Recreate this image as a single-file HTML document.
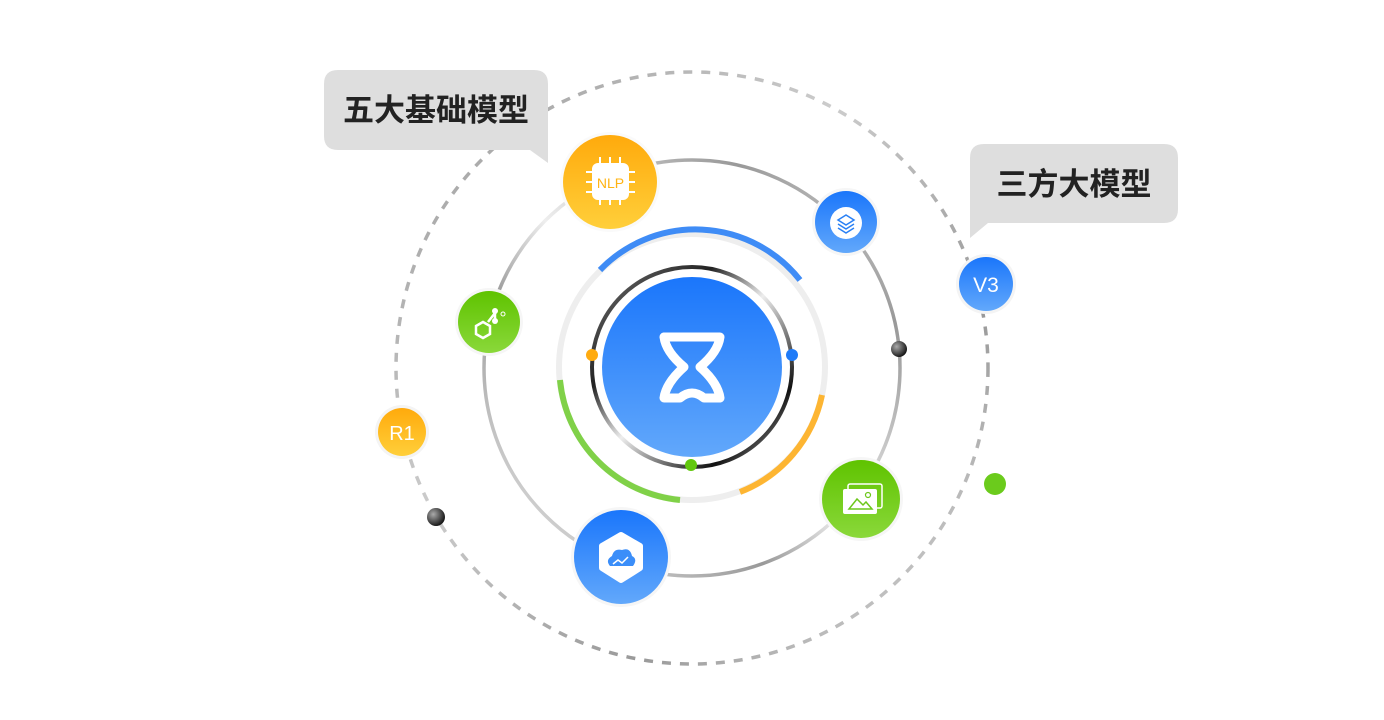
<!DOCTYPE html>
<html><head><meta charset="utf-8"><style>
html,body{margin:0;padding:0;background:#fff;width:1384px;height:720px;overflow:hidden}
svg{display:block}
text{font-family:"Liberation Sans","Noto Sans CJK SC",sans-serif}
</style></head><body>
<svg width="1384" height="720" viewBox="0 0 1384 720">
<defs>
<linearGradient id="blue" x1="0" y1="0" x2="0" y2="1"><stop offset="0" stop-color="#1a76fb"/><stop offset="1" stop-color="#62a8fb"/></linearGradient>
<linearGradient id="orange" x1="0" y1="0" x2="0" y2="1"><stop offset="0" stop-color="#ffaa0c"/><stop offset="1" stop-color="#ffcf3a"/></linearGradient>
<linearGradient id="green" x1="0" y1="0" x2="0" y2="1"><stop offset="0" stop-color="#5fc300"/><stop offset="1" stop-color="#8ad83a"/></linearGradient>
<radialGradient id="dark" cx="0.35" cy="0.35" r="0.7"><stop offset="0" stop-color="#aaa"/><stop offset="1" stop-color="#111"/></radialGradient>
<linearGradient id="midring" x1="0" y1="1" x2="1" y2="0"><stop offset="0" stop-color="#f2f2f2"/><stop offset="0.35" stop-color="#999"/><stop offset="0.5" stop-color="#eee"/><stop offset="0.8" stop-color="#999"/><stop offset="1" stop-color="#eee"/></linearGradient>
<linearGradient id="innerring" x1="0" y1="0" x2="1" y2="1"><stop offset="0" stop-color="#777"/><stop offset="0.3" stop-color="#222"/><stop offset="0.5" stop-color="#eee"/><stop offset="0.8" stop-color="#111"/><stop offset="1" stop-color="#ccc"/></linearGradient>
<linearGradient id="outerring" x1="0" y1="0" x2="1" y2="1"><stop offset="0" stop-color="#999"/><stop offset="0.4" stop-color="#ccc"/><stop offset="0.7" stop-color="#999"/><stop offset="1" stop-color="#e4e4e4"/></linearGradient>
</defs>

<circle cx="692" cy="368" r="296" fill="none" stroke="url(#outerring)" stroke-width="3.5" stroke-dasharray="9 9"/>
<circle cx="692" cy="368" r="208" fill="none" stroke="url(#midring)" stroke-width="3.5"/>
<circle cx="692" cy="367" r="133" fill="none" stroke="#eee" stroke-width="6"/>
<path d="M 600 270 A 133 133 0 0 1 800 280" fill="none" stroke="#2a80f5" stroke-width="6" opacity="0.9"/>
<path d="M 560 380 A 133 133 0 0 0 680 500" fill="none" stroke="#6ccb2a" stroke-width="6" opacity="0.85"/>
<path d="M 740 492 A 133 133 0 0 0 822 395" fill="none" stroke="#ffaa10" stroke-width="6" opacity="0.85"/>
<circle cx="692" cy="367" r="100" fill="none" stroke="url(#innerring)" stroke-width="4"/>
<circle cx="592" cy="355" r="6" fill="#ffab10"/>
<circle cx="792" cy="355" r="6" fill="#1f7bf8"/>
<circle cx="691" cy="465" r="6" fill="#62c80e"/>
<circle cx="692" cy="367" r="90" fill="url(#blue)"/>
<path d="M 664 337 L 720 337 Q 718 352 700 367 Q 718 383 720 398 L 704 398 Q 692 388 680 398 L 664 398 Q 666 383 684 367 Q 666 352 664 337 Z" fill="none" stroke="#fff" stroke-width="9" stroke-linejoin="round"/>

<circle cx="610" cy="182" r="50" fill="#fafafa"/>
<circle cx="610" cy="182" r="47" fill="url(#orange)"/>
<g stroke="#fff" stroke-width="2"><line x1="600" y1="157" x2="600" y2="205"/><line x1="610" y1="157" x2="610" y2="205"/><line x1="620" y1="157" x2="620" y2="205"/><line x1="586" y1="172" x2="635" y2="172"/><line x1="586" y1="182" x2="635" y2="182"/><line x1="586" y1="192" x2="635" y2="192"/></g>
<rect x="592" y="163" width="37" height="37" rx="6" fill="#fff"/>
<text x="610.5" y="188" font-size="14" fill="#ffb414" text-anchor="middle">NLP</text>

<circle cx="846" cy="222" r="34" fill="#f6f6f6"/>
<circle cx="846" cy="222" r="31" fill="url(#blue)"/>
<circle cx="846" cy="223" r="16" fill="#fff"/>
<g fill="none" stroke="#2a80f5" stroke-width="1.5"><path d="M838 220 l8 -5 l8 5 l-8 5z"/><path d="M838 224 l8 5 l8 -5"/><path d="M838 228 l8 5 l8 -5"/></g>

<circle cx="986" cy="284" r="30" fill="#f4f4f4"/>
<circle cx="986" cy="284" r="27" fill="url(#blue)"/>
<text x="986" y="292" font-size="21" fill="#fff" text-anchor="middle">V3</text>

<circle cx="489" cy="322" r="34" fill="#f6f6f6"/>
<circle cx="489" cy="322" r="31" fill="url(#green)"/>
<g stroke="#fff" stroke-width="2.5" fill="none"><path d="M476 326 l7 -4 l7 4 v8 l-7 4 l-7 -4z"/><line x1="488" y1="322" x2="495" y2="313"/><line x1="495" y1="313" x2="495" y2="322"/></g>
<circle cx="495" cy="311" r="3" fill="#fff"/><circle cx="495" cy="321" r="3" fill="#fff"/><circle cx="503" cy="314" r="2" fill="none" stroke="#fff" stroke-width="1"/>

<circle cx="402" cy="432" r="27" fill="#f4f4f4"/>
<circle cx="402" cy="432" r="24" fill="url(#orange)"/>
<text x="402" y="440" font-size="20" fill="#fff" text-anchor="middle">R1</text>

<circle cx="899" cy="349" r="8" fill="url(#dark)"/>
<circle cx="436" cy="517" r="9" fill="url(#dark)"/>
<circle cx="995" cy="484" r="11" fill="#6bcb1c"/>

<circle cx="861" cy="499" r="42" fill="#f6f6f6"/>
<circle cx="861" cy="499" r="39" fill="url(#green)"/>
<rect x="848" y="484" width="34" height="24" rx="2" fill="none" stroke="#fff" stroke-width="1.5"/>
<rect x="843" y="489" width="34" height="25" rx="2" fill="#fff"/>
<path d="M849 509 l8 -10 l6 6 l3 -3 l6 7z" fill="none" stroke="#6cc71a" stroke-width="1.5"/>
<circle cx="868" cy="495" r="2.5" fill="none" stroke="#6cc71a" stroke-width="1.2"/>

<circle cx="621" cy="557" r="50" fill="#f6f6f6"/>
<circle cx="621" cy="557" r="47" fill="url(#blue)"/>
<path d="M621 535 L640 546 L640 568 L621 580 L602 568 L602 546 Z" fill="#fff" stroke="#fff" stroke-width="6" stroke-linejoin="round"/>
<path d="M610 566 q-5 -6 2 -10 q2 -8 10 -6 q8 -3 10 6 q6 3 1 10 z" fill="#3b8ef9"/>
<path d="M613 564 l5 -4 l4 3 l6 -6" fill="none" stroke="#fff" stroke-width="1.5"/>

<path d="M338 70 H534 Q548 70 548 84 V163 L530 150 H338 Q324 150 324 136 V84 Q324 70 338 70 Z" fill="#dedede"/>
<text x="436" y="121" font-size="31" font-weight="700" fill="#222" text-anchor="middle">五大基础模型</text>
<path d="M984 144 H1164 Q1178 144 1178 158 V209 Q1178 223 1164 223 H988 L970 238 V158 Q970 144 984 144 Z" fill="#dedede"/>
<text x="1074" y="195" font-size="31" font-weight="700" fill="#222" text-anchor="middle">三方大模型</text>
</svg>
</body></html>
